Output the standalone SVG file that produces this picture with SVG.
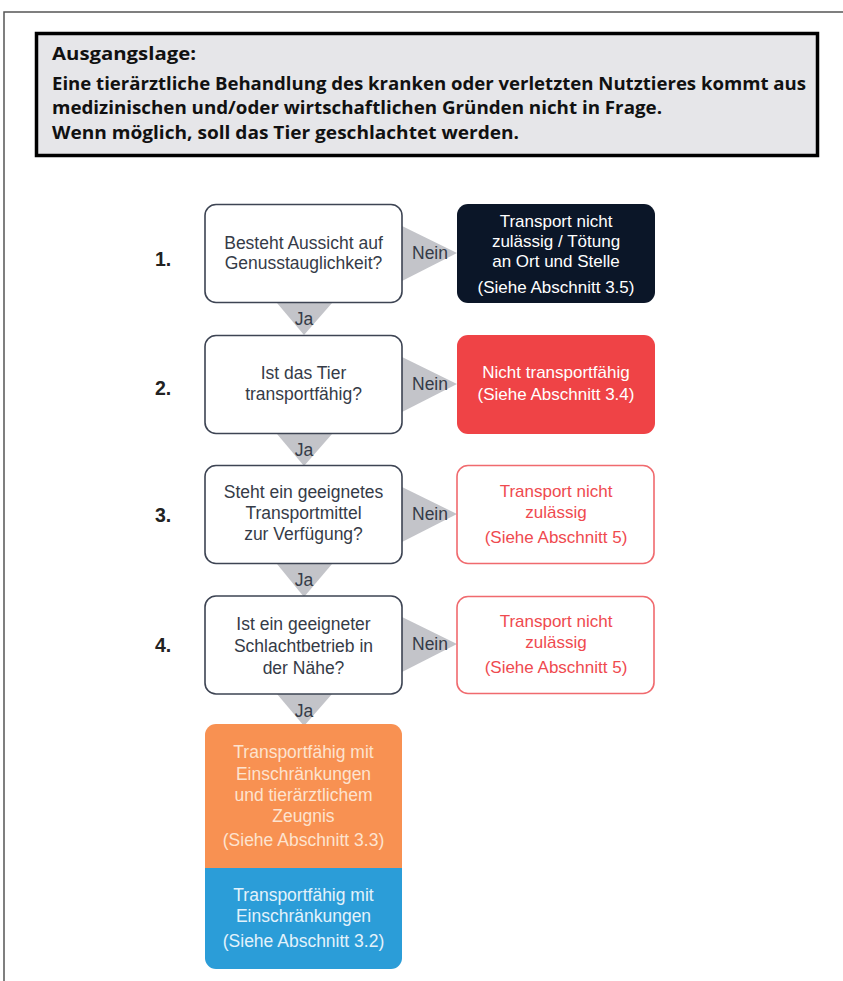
<svg xmlns="http://www.w3.org/2000/svg" width="843" height="981" viewBox="0 0 843 981">
<style>
.hdr{font-family:"Open Sans","Liberation Sans",Arial,sans-serif;font-weight:bold;font-size:18px;fill:#111}
.num{font-family:"Liberation Sans",Arial,sans-serif;font-weight:bold;font-size:19.5px;fill:#222}
.q{font-family:"Liberation Sans",Arial,sans-serif;font-size:17.5px;fill:#353b47;text-anchor:middle}
.lbl{font-family:"Liberation Sans",Arial,sans-serif;font-size:17.5px;fill:#353b47;text-anchor:middle}
.w{font-family:"Liberation Sans",Arial,sans-serif;font-size:17px;fill:#fff;text-anchor:middle}
.r{font-family:"Liberation Sans",Arial,sans-serif;font-size:17px;fill:#ef4a4f;text-anchor:middle}
.lo{font-family:"Liberation Sans",Arial,sans-serif;font-size:17.5px;fill:#fde3cf;text-anchor:middle}
.lb{font-family:"Liberation Sans",Arial,sans-serif;font-size:17.5px;fill:#e3f2fb;text-anchor:middle}
.qbox{fill:#fff;stroke:#3d4453;stroke-width:1.6}
.rbox{fill:#fff;stroke:#f06a6e;stroke-width:1.6}
.tri{fill:#c3c4c9}
</style>
<rect x="0" y="0" width="843" height="981" fill="#fff"/>
<path d="M4 981 V12 H843" fill="none" stroke="#555" stroke-width="1.5"/>
<g id="header">
<rect x="36.5" y="33.5" width="781" height="122" fill="#e6e6e9" stroke="#000" stroke-width="3.5"/>
<text class="hdr" x="52" y="60" textLength="144" lengthAdjust="spacingAndGlyphs">Ausgangslage:</text>
<text class="hdr" x="52" y="90" textLength="754" lengthAdjust="spacingAndGlyphs">Eine tierärztliche Behandlung des kranken oder verletzten Nutztieres kommt aus</text>
<text class="hdr" x="52" y="114" textLength="610" lengthAdjust="spacingAndGlyphs">medizinischen und/oder wirtschaftlichen Gründen nicht in Frage.</text>
<text class="hdr" x="52" y="139" textLength="467" lengthAdjust="spacingAndGlyphs">Wenn möglich, soll das Tier geschlachtet werden.</text>
</g>
<g id="connectors">
<polygon class="tri" points="402,226 402,281 457,253"/>
<polygon class="tri" points="402,357 402,412 457,384"/>
<polygon class="tri" points="402,487 402,542 457,514"/>
<polygon class="tri" points="402,617 402,672 457,644"/>
<polygon class="tri" points="277,303 332,303 304,335"/>
<polygon class="tri" points="277,434 332,434 304,466"/>
<polygon class="tri" points="277,564 332,564 304,597"/>
<polygon class="tri" points="277,694 332,694 304,726"/>
<text class="lbl" x="430" y="259">Nein</text>
<text class="lbl" x="430" y="390">Nein</text>
<text class="lbl" x="430" y="520">Nein</text>
<text class="lbl" x="430" y="650">Nein</text>
<text class="lbl" x="304" y="325">Ja</text>
<text class="lbl" x="304" y="456">Ja</text>
<text class="lbl" x="304" y="586">Ja</text>
<text class="lbl" x="304" y="717">Ja</text>
</g>
<g id="q1">
<text class="num" x="155" y="266">1.</text>
<rect class="qbox" x="205" y="204.5" width="197" height="98" rx="11"/>
<text class="q" x="303.5" y="249">Besteht Aussicht auf</text>
<text class="q" x="303.5" y="269">Genusstauglichkeit?</text>
</g>
<g id="q2">
<text class="num" x="155" y="395">2.</text>
<rect class="qbox" x="205" y="335.5" width="197" height="98" rx="11"/>
<text class="q" x="303.5" y="379">Ist das Tier</text>
<text class="q" x="303.5" y="400">transportfähig?</text>
</g>
<g id="q3">
<text class="num" x="155" y="522">3.</text>
<rect class="qbox" x="205" y="465.5" width="197" height="98" rx="11"/>
<text class="q" x="303.5" y="498">Steht ein geeignetes</text>
<text class="q" x="303.5" y="519">Transportmittel</text>
<text class="q" x="303.5" y="540">zur Verfügung?</text>
</g>
<g id="q4">
<text class="num" x="155" y="652">4.</text>
<rect class="qbox" x="205" y="596" width="197" height="98" rx="11"/>
<text class="q" x="303.5" y="630">Ist ein geeigneter</text>
<text class="q" x="303.5" y="652">Schlachtbetrieb in</text>
<text class="q" x="303.5" y="674">der Nähe?</text>
</g>
<g id="r1">
<rect x="457" y="204" width="198" height="99" rx="11" fill="#0b1628"/>
<text class="w" x="556" y="227">Transport nicht</text>
<text class="w" x="556" y="247">zulässig / Tötung</text>
<text class="w" x="556" y="267">an Ort und Stelle</text>
<text class="w" x="556" y="293">(Siehe Abschnitt 3.5)</text>
</g>
<g id="r2">
<rect x="457" y="335" width="198" height="99" rx="11" fill="#ef4346"/>
<text class="w" x="556" y="378">Nicht transportfähig</text>
<text class="w" x="556" y="400">(Siehe Abschnitt 3.4)</text>
</g>
<g id="r3">
<rect class="rbox" x="457" y="465.5" width="197" height="98" rx="11"/>
<text class="r" x="556" y="497">Transport nicht</text>
<text class="r" x="556" y="518">zulässig</text>
<text class="r" x="556" y="543">(Siehe Abschnitt 5)</text>
</g>
<g id="r4">
<rect class="rbox" x="457" y="596.5" width="197" height="97" rx="11"/>
<text class="r" x="556" y="627">Transport nicht</text>
<text class="r" x="556" y="648">zulässig</text>
<text class="r" x="556" y="673">(Siehe Abschnitt 5)</text>
</g>
<g id="outcome-orange">
<path d="M216 724 H391 A11 11 0 0 1 402 735 V868 H205 V735 A11 11 0 0 1 216 724 Z" fill="#f89152"/>
<text class="lo" x="303.5" y="758">Transportfähig mit</text>
<text class="lo" x="303.5" y="780">Einschränkungen</text>
<text class="lo" x="303.5" y="801">und tierärztlichem</text>
<text class="lo" x="303.5" y="822">Zeugnis</text>
<text class="lo" x="303.5" y="846">(Siehe Abschnitt 3.3)</text>
</g>
<g id="outcome-blue">
<path d="M205 868 H402 V958 A11 11 0 0 1 391 969 H216 A11 11 0 0 1 205 958 Z" fill="#2b9dd8"/>
<text class="lb" x="303.5" y="901">Transportfähig mit</text>
<text class="lb" x="303.5" y="922">Einschränkungen</text>
<text class="lb" x="303.5" y="947">(Siehe Abschnitt 3.2)</text>
</g>
</svg>
